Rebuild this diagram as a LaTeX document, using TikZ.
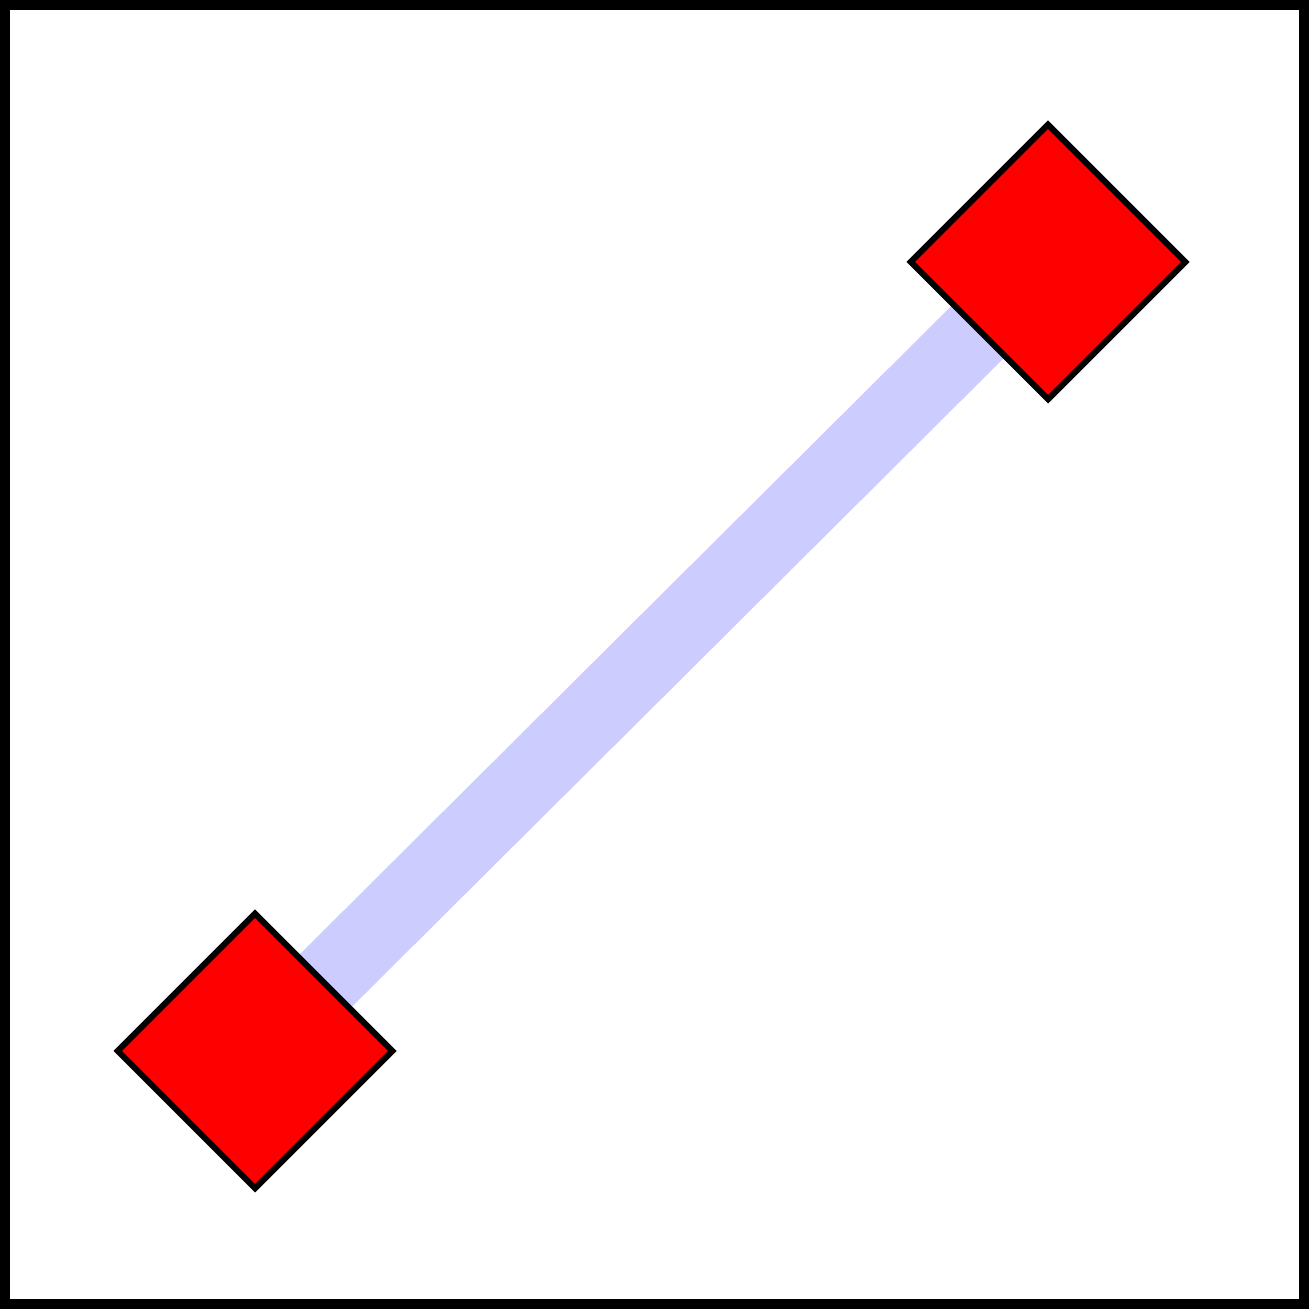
\documentclass[tikz,border=0pt]{standalone}
\usetikzlibrary{shapes.geometric,backgrounds}

\begin{document}
\begin{tikzpicture}

% picture size
\def\S{13.09}

% half diagonal of the diamonds
\def\d{1.385}

% bounding box and frame
\useasboundingbox (0,0) rectangle (\S,\S);
\draw[line width=0.1cm] (0.05,0.05) rectangle ({\S-0.05},{\S-0.05});

% diamond ends
\tikzset{endbox/.style={diamond,draw=black,fill=red,line width=0.06cm,
  inner sep=0pt,minimum width=2*\d cm,minimum height=2*\d cm}}

\coordinate (A) at (2.55,2.58);
\coordinate (B) at (10.48,10.47);

\node[endbox] (lower) at (A) {};
\node[endbox] (upper) at (B) {};

% bar between the diamonds
\begin{pgfonlayer}{background}
\draw[blue!20,line width=0.74cm] (lower.center) -- (upper.center);
\end{pgfonlayer}

\end{tikzpicture}
\end{document}
